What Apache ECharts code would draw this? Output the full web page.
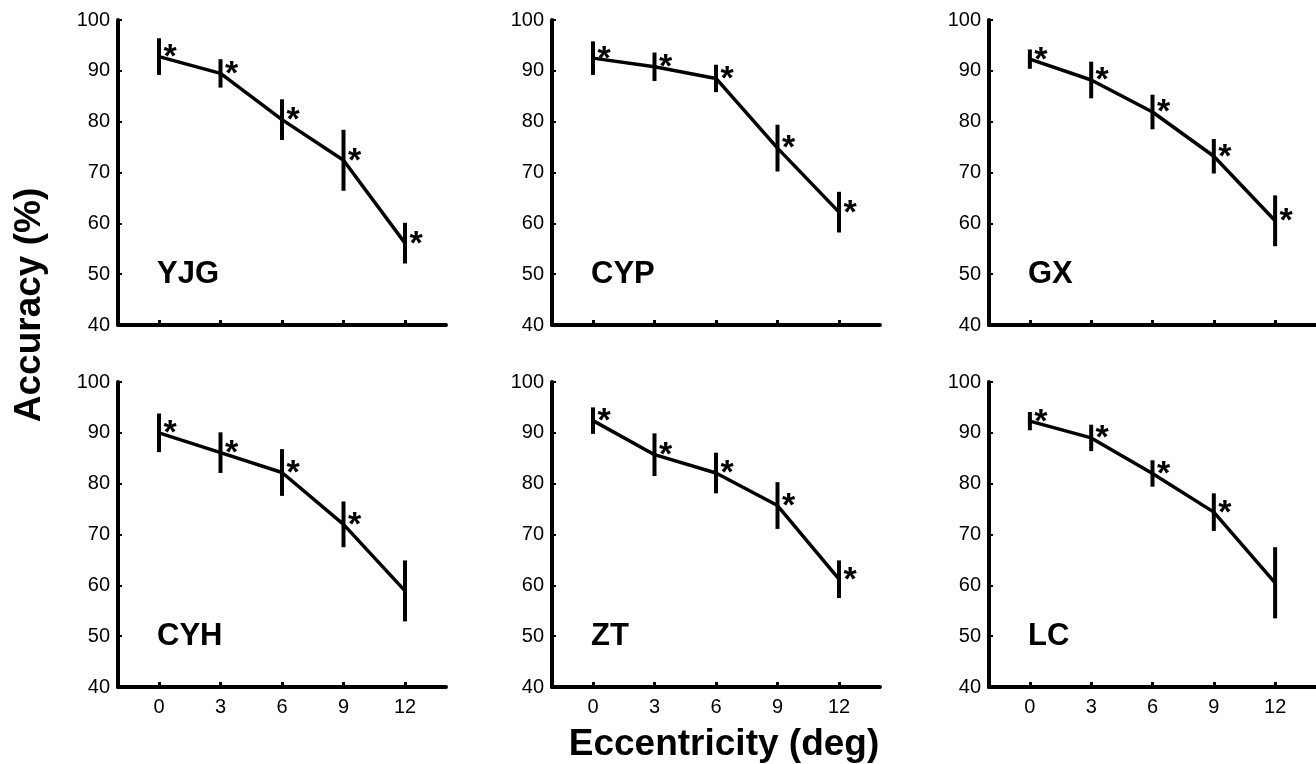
<!DOCTYPE html>
<html>
<head>
<meta charset="utf-8">
<script src="https://cdn.jsdelivr.net/npm/echarts@6/dist/echarts.min.js"></script>
<style>
  html, body { margin: 0; padding: 0; background: #fff; }
  #main { width: 1316px; height: 764px; }
</style>
</head>
<body>
<div id="main"></div>
<script>
// data
var eccentricity = [0, 3, 6, 9, 12];
var subjects = ['YJG', 'CYP', 'GX', 'CYH', 'ZT', 'LC'];

var accYJG = [92.8, 89.5, 80.4, 72.4, 56.1];
var errYJG = [3.6, 2.8, 4.0, 6.0, 4.0];
var accCYP = [92.5, 90.8, 88.5, 74.8, 62.2];
var errCYP = [3.3, 2.8, 2.7, 4.6, 4.0];
var accGX  = [92.3, 88.2, 81.9, 73.2, 60.5];
var errGX  = [1.9, 3.6, 3.4, 3.4, 5.0];
var accCYH = [90.0, 86.1, 82.2, 72.0, 58.9];
var errCYH = [3.8, 4.0, 4.6, 4.5, 6.0];
var accZT  = [92.4, 85.7, 82.1, 75.7, 61.2];
var errZT  = [2.6, 4.2, 4.0, 4.6, 3.7];
var accLC  = [92.3, 89.0, 82.0, 74.4, 60.5];
var errLC  = [1.8, 2.6, 2.6, 3.7, 7.0];

// 1 = marked with an asterisk
var sigYJG = [1, 1, 1, 1, 1];
var sigCYP = [1, 1, 1, 1, 1];
var sigGX  = [1, 1, 1, 1, 1];
var sigCYH = [1, 1, 1, 1, 0];
var sigZT  = [1, 1, 1, 1, 1];
var sigLC  = [1, 1, 1, 1, 0];

var xTicks = [0, 3, 6, 9, 12];

var accuracy = [accYJG, accCYP, accGX, accCYH, accZT, accLC];
var errors = [errYJG, errCYP, errGX, errCYH, errZT, errLC];
var signif = [sigYJG, sigCYP, sigGX, sigCYH, sigZT, sigLC];

var FONT = '"Liberation Sans", Arial, sans-serif';
var colLeft = [118, 552, 989];
var rowTop = [20, 382];
var gw = 328, gh = 305;

var myChart = echarts.init(document.getElementById('main'));

// error bar + asterisk
function renderErr(params, api) {
    var x = api.value(0), m = api.value(1), e = api.value(2), s = api.value(3);
    var top = api.coord([x, m + e]);
    var bot = api.coord([x, m - e]);
    var mid = api.coord([x, m]);
    var kids = [{
        type: 'line',
        shape: { x1: top[0], y1: top[1], x2: bot[0], y2: bot[1] },
        style: { stroke: '#000', lineWidth: 4 }
    }];
    if (s) {
        kids.push({
            type: 'text',
            x: mid[0] + 11,
            y: mid[1] + 1,
            style: { text: '*', font: 'bold 34px ' + FONT, fill: '#000', align: 'center', verticalAlign: 'middle' }
        });
    }
    return { type: 'group', children: kids };
}

var grids = [], xAxes = [], yAxes = [], series = [], texts = [];

subjects.forEach(function (name, i) {
    var row = Math.floor(i / 3), col = i % 3;
    grids.push({ left: colLeft[col], top: rowTop[row], width: gw, height: gh });

    xAxes.push({
        gridIndex: i, type: 'value', min: -2, max: 14,
        axisLine: { onZero: false, lineStyle: { color: '#000', width: 4 } },
        axisTick: { inside: true, length: 5, customValues: xTicks, lineStyle: { color: '#000', width: 3 } },
        axisLabel: { show: row === 1, customValues: xTicks, color: '#000', fontSize: 20, fontFamily: FONT, margin: 10 },
        splitLine: { show: false }
    });
    yAxes.push({
        gridIndex: i, type: 'value', min: 40, max: 100, interval: 10,
        axisLine: { show: true, onZero: false, lineStyle: { color: '#000', width: 4 } },
        axisTick: { show: true, inside: true, length: 4, lineStyle: { color: '#000', width: 2 } },
        axisLabel: { color: '#000', fontSize: 20, fontFamily: FONT, margin: 8 },
        splitLine: { show: false }
    });

    var lineData = [], errData = [];
    eccentricity.forEach(function (x, k) {
        lineData.push([x, accuracy[i][k]]);
        errData.push([x, accuracy[i][k], errors[i][k], signif[i][k]]);
    });

    series.push({
        type: 'line', name: name, xAxisIndex: i, yAxisIndex: i,
        data: lineData, symbol: 'none', silent: true,
        lineStyle: { color: '#000', width: 3.5 }
    });
    series.push({
        type: 'custom', name: name + ' sem', xAxisIndex: i, yAxisIndex: i,
        data: errData, renderItem: renderErr, silent: true
    });

    texts.push({
        type: 'text', x: colLeft[col] + 39, y: 274 + (rowTop[row] - rowTop[0]),
        style: { text: name, font: 'bold 31px ' + FONT, fill: '#000', align: 'left', verticalAlign: 'middle' }
    });
});

texts.push({
    type: 'text', x: 30, y: 305, rotation: Math.PI / 2,
    style: { text: 'Accuracy (%)', font: 'bold 37px ' + FONT, fill: '#000', align: 'center', verticalAlign: 'middle' }
});
texts.push({
    type: 'text', x: 724, y: 745,
    style: { text: 'Eccentricity (deg)', font: 'bold 37px ' + FONT, fill: '#000', align: 'center', verticalAlign: 'middle' }
});

var option = {
    animation: false,
    backgroundColor: '#fff',
    grid: grids,
    xAxis: xAxes,
    yAxis: yAxes,
    series: series,
    graphic: texts
};

myChart.setOption(option);
</script>
</body>
</html>
